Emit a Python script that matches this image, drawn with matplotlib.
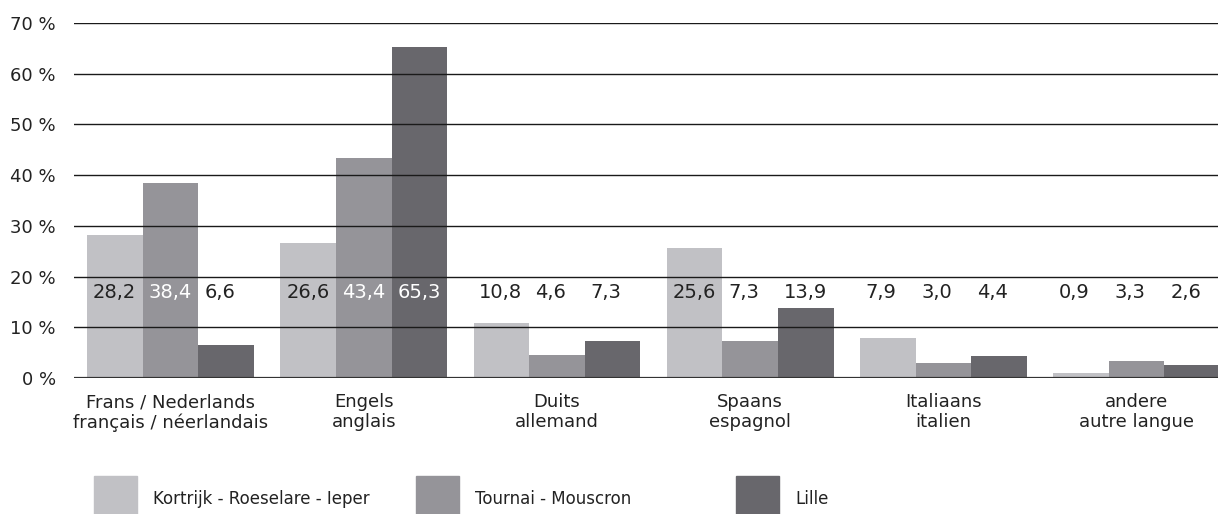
import numpy as np
import matplotlib.pyplot as plt
from matplotlib.patches import Rectangle

# Talen (NL / FR) en aandeel per regio in %
talen = ['Frans / Nederlands\nfrançais / néerlandais', 'Engels\nanglais', 'Duits\nallemand',
         'Spaans\nespagnol', 'Italiaans\nitalien', 'andere\nautre langue']
regios = ['Kortrijk - Roeselare - Ieper', 'Tournai - Mouscron', 'Lille']
kortrijk = [28.2, 26.6, 10.8, 25.6, 7.9, 0.9]
tournai = [38.4, 43.4, 4.6, 7.3, 3.0, 3.3]
lille = [6.6, 65.3, 7.3, 13.9, 4.4, 2.6]

kleuren = ['#c1c1c5', '#959499', '#68676c']
tekst = '#222222'

plt.rcParams['font.family'] = 'DejaVu Sans'

W, H = 1218, 514
fig = plt.figure(figsize=(W / 100, H / 100), dpi=100)
# assen in pixels: links 74, rechts 1218, boven 23, onder 378
ax = fig.add_axes([74 / W, 1 - 378 / H, (W - 74) / W, (378 - 23) / H])

x = np.arange(len(talen))
b = 0.288
reeksen = [kortrijk, tournai, lille]
for i, (waarden, kleur) in enumerate(zip(reeksen, kleuren)):
    pos = x + (i - 1) * b
    ax.bar(pos, waarden, width=b, color=kleur, zorder=1)
    for xp, v in zip(pos, waarden):
        kl = 'white' if (i > 0 and v > 18) else tekst
        ax.text(xp - b / 2 + 0.03, 16.8, f'{v:.1f}'.replace('.', ','), ha='left', va='center',
                fontsize=14, color=kl, zorder=3)

# horizontale lijnen boven de balken
for y in range(10, 80, 10):
    ax.axhline(y, color='#1a1a1a', lw=1.0, zorder=2)
ax.axhline(0, color='#333333', lw=1.6, zorder=2)

ax.set_xlim(-0.5, (W - 74) / 193.2 - 0.5)
ax.set_ylim(0, 70)
ax.set_yticks(range(0, 80, 10))
ax.set_yticklabels([f'{y} %' for y in range(0, 80, 10)])
ax.set_xticks(x)
ax.set_xticklabels(talen, linespacing=1.15)
ax.tick_params(length=0, labelsize=13, labelcolor=tekst)
ax.tick_params(axis='y', pad=13)
ax.tick_params(axis='x', pad=11)
for s in ax.spines.values():
    s.set_visible(False)

# legende onderaan
leg_x = [94, 416, 736]
for lx, naam, kleur in zip(leg_x, regios, kleuren):
    fig.add_artist(Rectangle((lx / W, 1 - 522 / H), 43 / W, 46 / H,
                             transform=fig.transFigure, color=kleur))
    fig.text((lx + 59) / W, 1 - 499 / H, naam, ha='left', va='center',
             fontsize=12, color=tekst)

fig.savefig('out.png', dpi=100)
